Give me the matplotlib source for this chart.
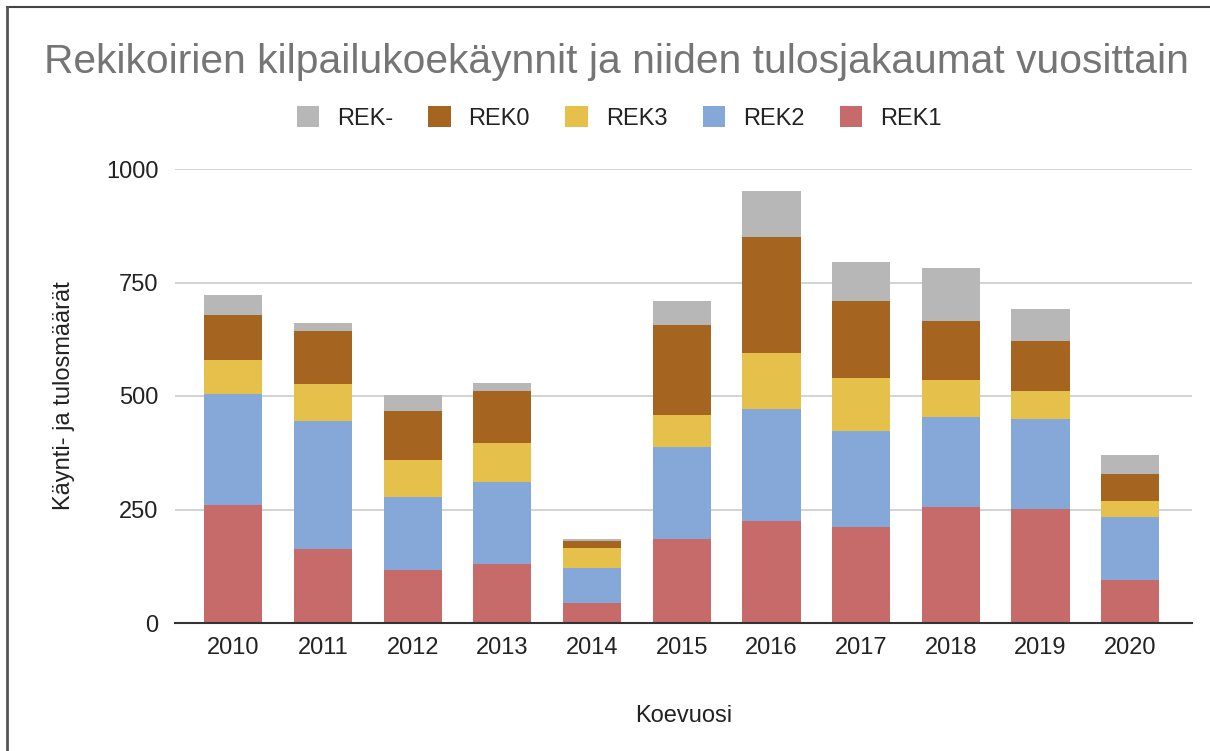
import numpy as np
import matplotlib
matplotlib.use('Agg')
from matplotlib import pyplot as plt
from matplotlib.lines import Line2D

plt.rcParams['font.family'] = ['Liberation Sans', 'DejaVu Sans']

years = ['2010', '2011', '2012', '2013', '2014', '2015', '2016', '2017', '2018', '2019', '2020']
rek1 = [260, 162, 117, 130, 45, 184, 225, 211, 256, 252, 95]
rek2 = [244, 283, 161, 180, 77, 203, 247, 212, 198, 197, 138]
rek3 = [75, 81, 81, 86, 44, 71, 122, 116, 81, 63, 36]
rek0 = [99, 117, 109, 115, 15, 198, 256, 171, 130, 109, 59]
rek_minus = [44, 17, 34, 18, 3, 53, 102, 85, 116, 70, 41]

series = [('REK1', rek1, '#c66a6a'),
          ('REK2', rek2, '#86a8d8'),
          ('REK3', rek3, '#e5c04a'),
          ('REK0', rek0, '#a5641f'),
          ('REK-', rek_minus, '#b7b7b7')]

fig = plt.figure(figsize=(12.1, 7.51), dpi=100)
ax = fig.add_axes([175 / 1210, 1 - 623 / 751, (1192 - 175) / 1210, (623 - 169) / 751])

x = np.arange(len(years))
bottom = np.zeros(len(years))
bars = {}
for name, vals, col in series:
    bars[name] = ax.bar(x, vals, width=0.65, bottom=bottom, color=col, zorder=3, label=name)
    bottom += np.array(vals)

ax.set_xlim(-0.65, 10.69)
ax.set_ylim(0, 1000)
ax.set_yticks([0, 250, 500, 750, 1000])
ax.set_xticks(x)
ax.set_xticklabels(years)
ax.grid(axis='y', color='#cccccc', linewidth=1.2, zorder=0)
for s in ['top', 'right', 'left']:
    ax.spines[s].set_visible(False)
ax.spines['bottom'].set_color('#333333')
ax.spines['bottom'].set_linewidth(1.5)
ax.spines['bottom'].set_zorder(4)
ax.tick_params(axis='both', length=0, labelsize=17, colors='#222222')
ax.tick_params(axis='x', pad=10)
ax.tick_params(axis='y', pad=12)

ax.set_ylabel('Käynti- ja tulosmäärät', fontsize=17, color='#222222', labelpad=22)
ax.set_xlabel('Koevuosi', fontsize=17, color='#222222', labelpad=33)

fig.text(616 / 1210, 1 - 62 / 751, 'Rekikoirien kilpailukoekäynnit ja niiden tulosjakaumat vuosittain',
         ha='center', va='center', fontsize=29.3, color='#757575')

order = ['REK-', 'REK0', 'REK3', 'REK2', 'REK1']
handles = [bars[n] for n in order]
fig.legend(handles, order, loc='center', bbox_to_anchor=(619 / 1210, 1 - 118 / 751), ncol=5,
           frameon=False, fontsize=17, handlelength=0.95, handleheight=0.95,
           columnspacing=1.5, handletextpad=0.75, labelcolor='#222222')

# frame lines of the screenshot
fig.add_artist(Line2D([7 / 1210, 1], [1 - 7 / 751, 1 - 7 / 751], color='#444444', linewidth=1.5))
fig.add_artist(Line2D([7 / 1210, 7 / 1210], [0, 1 - 7 / 751], color='#555555', linewidth=2))

fig.savefig('out.png', dpi=100)
